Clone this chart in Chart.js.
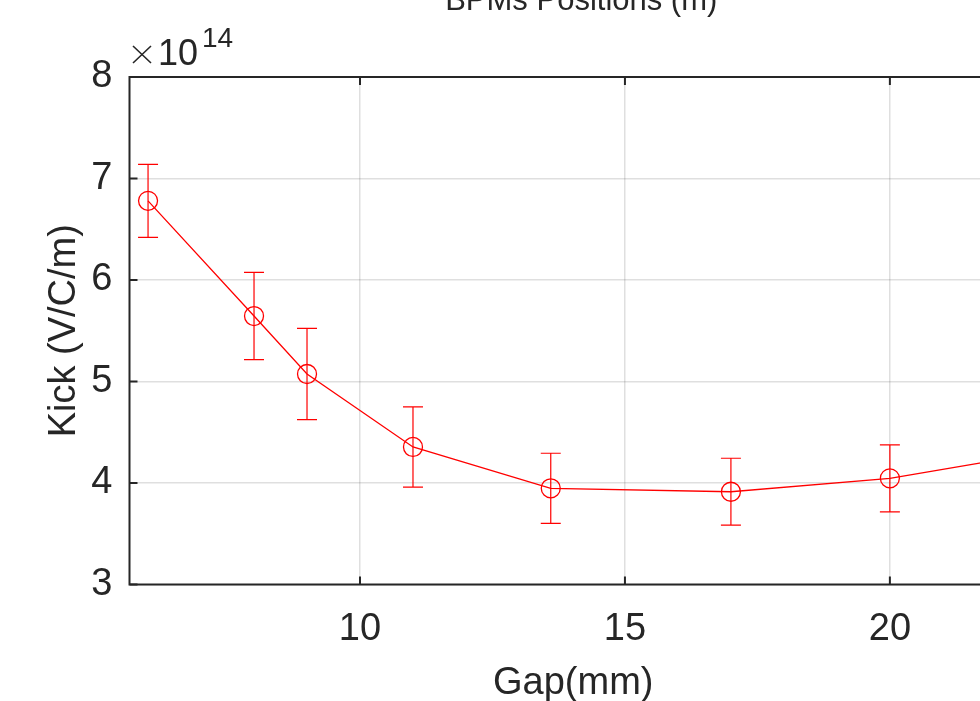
<!DOCTYPE html>
<html>
<head>
<meta charset="utf-8">
<script src="https://cdn.jsdelivr.net/npm/chart.js@4.4.1/dist/chart.umd.min.js"></script>
<style>
  html, body { margin: 0; padding: 0; background: #fff; overflow: hidden; }
  #wrap { width: 1060px; height: 701px; }
</style>
</head>
<body>
<div id="wrap"><canvas id="chart" width="1060" height="701"></canvas></div>
<script>
// gap scan: kick per unit charge, with error bars
var gap = [6, 8, 9, 11, 13.6, 17, 20, 22.3];
var kick = [6.78e14, 5.645e14, 5.074e14, 4.355e14, 3.948e14, 3.914e14, 4.046e14, 4.25e14];
var kickErr = [0.36e14, 0.43e14, 0.45e14, 0.395e14, 0.345e14, 0.33e14, 0.33e14, 0.34e14];
var xTicks = [10, 15, 20];
var yTicks = [3e14, 4e14, 5e14, 6e14, 7e14, 8e14];

var FONT = "'Liberation Sans', Arial, Helvetica, sans-serif";
var INK = '#262626';

var points = gap.map(function (g, i) { return { x: g, y: kick[i] }; });

var errorBars = {
  id: 'errorBars',
  afterDatasetsDraw: function (chart) {
    var ctx = chart.ctx, xs = chart.scales.x, ys = chart.scales.y;
    ctx.save();
    ctx.strokeStyle = '#ff0000';
    ctx.lineWidth = 1.2;
    for (var i = 0; i < gap.length; i++) {
      var px = xs.getPixelForValue(gap[i]);
      var top = ys.getPixelForValue(kick[i] + kickErr[i]);
      var bot = ys.getPixelForValue(kick[i] - kickErr[i]);
      ctx.beginPath();
      ctx.moveTo(px, top); ctx.lineTo(px, bot);
      ctx.moveTo(px - 10, top); ctx.lineTo(px + 10, top);
      ctx.moveTo(px - 10, bot); ctx.lineTo(px + 10, bot);
      ctx.stroke();
    }
    ctx.restore();
  }
};

// axes box, inward ticks and all the text
var frame = {
  id: 'frame',
  afterDraw: function (chart) {
    var ctx = chart.ctx, a = chart.chartArea, xs = chart.scales.x, ys = chart.scales.y;
    ctx.save();
    ctx.strokeStyle = INK;
    ctx.lineWidth = 2;
    ctx.strokeRect(a.left, a.top, a.right - a.left, a.bottom - a.top);
    ctx.beginPath();
    xTicks.forEach(function (v) {
      var p = xs.getPixelForValue(v);
      ctx.moveTo(p, a.bottom); ctx.lineTo(p, a.bottom - 8);
      ctx.moveTo(p, a.top); ctx.lineTo(p, a.top + 8);
    });
    yTicks.forEach(function (v) {
      var p = ys.getPixelForValue(v);
      ctx.moveTo(a.left, p); ctx.lineTo(a.left + 8, p);
      ctx.moveTo(a.right, p); ctx.lineTo(a.right - 8, p);
    });
    ctx.stroke();

    var cx = (a.left + a.right) / 2;
    var cy = (a.top + a.bottom) / 2;
    ctx.fillStyle = INK;
    ctx.textBaseline = 'alphabetic';

    ctx.textAlign = 'center';
    ctx.font = '31px ' + FONT;
    ctx.fillText('BPMs Positions (m)', cx + 4, 10);

    ctx.font = '38px ' + FONT;
    ctx.fillText('Gap(mm)', cx - 4, 694);

    ctx.save();
    ctx.translate(75, cy);
    ctx.rotate(-Math.PI / 2);
    ctx.fillText('Kick (V/C/m)', 0, 0);
    ctx.restore();

    // exponent label: thin TeX-style times sign, then 10^14
    ctx.lineWidth = 1.6;
    ctx.beginPath();
    ctx.moveTo(133, 46); ctx.lineTo(151, 63);
    ctx.moveTo(151, 46); ctx.lineTo(133, 63);
    ctx.stroke();
    ctx.textAlign = 'left';
    ctx.font = '36px ' + FONT;
    ctx.fillText('10', 158, 65);
    ctx.font = '28px ' + FONT;
    ctx.fillText('14', 202, 47);
    ctx.restore();
  }
};

var ctx = document.getElementById('chart').getContext('2d');
var myChart = new Chart(ctx, {
  type: 'scatter',
  data: {
    datasets: [{
      data: points,
      showLine: true,
      borderColor: '#ff0000',
      borderWidth: 1.3,
      backgroundColor: 'rgba(0,0,0,0)',
      pointRadius: 9.5,
      pointBorderWidth: 1.3,
      pointBorderColor: '#ff0000',
      pointBackgroundColor: 'rgba(0,0,0,0)',
      tension: 0
    }]
  },
  options: {
    responsive: false,
    animation: false,
    devicePixelRatio: 1,
    layout: { padding: { left: 0, top: 77, right: 35, bottom: 0 } },
    plugins: {
      legend: { display: false },
      tooltip: { enabled: false },
      title: { display: false }
    },
    scales: {
      x: {
        type: 'linear',
        min: 5.65,
        max: 22.55,
        afterFit: function (s) { s.height = 116.5; },
        afterBuildTicks: function (s) {
          s.ticks = xTicks.map(function (v) { return { value: v }; });
        },
        border: { display: false },
        grid: { color: 'rgba(38,38,38,0.15)', lineWidth: 1.5, drawTicks: false },
        ticks: {
          color: INK,
          padding: 22,
          maxRotation: 0,
          font: { family: FONT, size: 38 }
        }
      },
      y: {
        type: 'linear',
        min: 3e14,
        max: 8e14,
        afterFit: function (s) { s.width = 129.5; },
        afterBuildTicks: function (s) {
          s.ticks = yTicks.map(function (v) { return { value: v }; });
        },
        border: { display: false },
        grid: { color: 'rgba(38,38,38,0.15)', lineWidth: 1.5, drawTicks: false },
        ticks: {
          color: INK,
          padding: 17,
          font: { family: FONT, size: 38 },
          callback: function (v) { return Math.round(v / 1e14); }
        }
      }
    }
  },
  plugins: [errorBars, frame]
});
</script>
</body>
</html>
